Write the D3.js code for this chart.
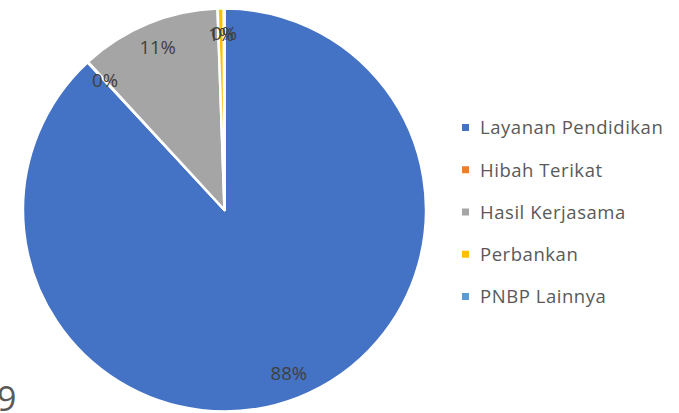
<!DOCTYPE html>
<html><head><meta charset="utf-8">
<script src="https://cdn.jsdelivr.net/npm/d3@7"></script>
<style>body{margin:0;background:#fff}svg{display:block}</style>
</head><body>
<svg id="c" width="679" height="413"></svg>
<script>
const categories = ["Layanan Pendidikan","Hibah Terikat","Hasil Kerjasama","Perbankan","PNBP Lainnya"];
const values = [88.1, 0.05, 11.3, 0.5, 0.05];
const colors = ["#4472C4","#ED7D31","#A5A5A5","#FFC000","#5B9BD5"];
const cutText = "9";

const svg = d3.select("#c");
const cx = 224.5, cy = 210, R = 201.5;
const total = d3.sum(values);
const pie = d3.pie().sort(null).value(d => d.v);
const arcs = pie(categories.map((c,i)=>({c, v: values[i], i})));
const arc = d3.arc().innerRadius(0).outerRadius(R);
const labelArc = d3.arc().innerRadius(176).outerRadius(176);
const g = svg.append("g").attr("transform",`translate(${cx},${cy})`);
g.selectAll("path").data(arcs).join("path")
  .attr("d", arc).attr("fill", d => colors[d.data.i])
  .attr("stroke","#fff").attr("stroke-width",2.5).attr("stroke-linejoin","round");
g.selectAll("text").data(arcs).join("text")
  .attr("transform", d => `translate(${labelArc.centroid(d)})`)
  .attr("text-anchor","middle").attr("dy","0.35em")
  .attr("font-family","'Open Sans', sans-serif").attr("font-size",18.5)
  .attr("fill","#404040")
  .text(d => Math.round(d.data.v / total * 100) + "%");

const color = d3.scaleOrdinal().domain(categories).range(colors);
const ly = d3.scalePoint().domain(categories).range([128, 297]);
const leg = svg.append("g");
const items = leg.selectAll("g").data(categories).join("g")
  .attr("transform", d => `translate(462,${ly(d)})`);
items.append("rect").attr("x",0).attr("y",-4).attr("width",7).attr("height",7).attr("fill", d => color(d));
items.append("text").attr("x",18).attr("dy","0.35em")
  .attr("font-family","'Open Sans', sans-serif").attr("font-size",18.5)
  .attr("letter-spacing",0.55)
  .attr("fill","#595959").text(d => d);

svg.append("text").attr("x",-3).attr("y",411)
  .attr("font-family","'Open Sans', sans-serif").attr("font-size",34)
  .attr("fill","#595959").text(cutText);
</script>
</body></html>
